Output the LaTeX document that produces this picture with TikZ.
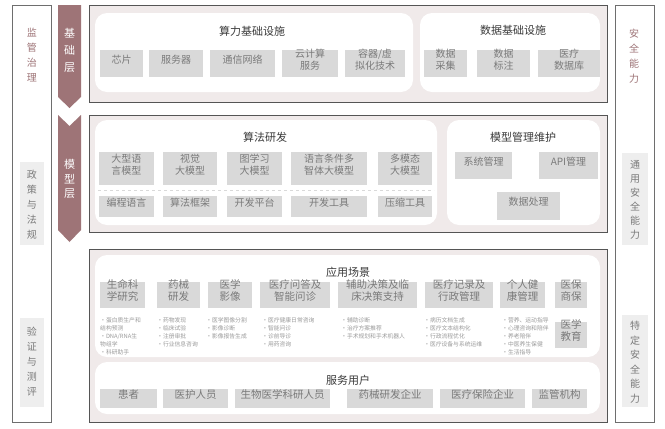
\documentclass[tikz,border=0pt]{standalone}
\usepackage{fontspec}
\setmainfont{Noto Sans CJK SC}
\usetikzlibrary{fit}
\definecolor{mauve}{HTML}{9E7477}
\definecolor{panelbg}{HTML}{F0EAEA}
\definecolor{boxbg}{HTML}{D9D9D9}
\definecolor{sidebg}{HTML}{EEEEEE}
\definecolor{boxtxt}{HTML}{7A7A7A}
\definecolor{titletxt}{HTML}{3A3A3A}
\definecolor{bullettxt}{HTML}{9A9A9A}
\definecolor{framec}{HTML}{555555}
\tikzset{
  panel/.style={draw=framec, line width=0.9pt, fill=panelbg, inner sep=0pt},
  wbox/.style={fill=white, rounded corners=12pt, inner sep=0pt},
  gbox/.style={fill=boxbg, inner sep=0pt, text=boxtxt, align=center, font=\fontsize{10}{12}\selectfont},
  abox/.style={gbox, font=\fontsize{10.5}{12.5}\selectfont},
  ttl/.style={text=titletxt, inner sep=0pt, font=\fontsize{11}{12}\selectfont},
  bul/.style={anchor=north west, inner sep=0pt, text=bullettxt, align=left, font=\fontsize{5.8}{8}\selectfont},
  sidecol/.style={draw=framec!85, line width=0.7pt, fill=white, inner sep=0pt},
  sidebox/.style={fill=sidebg, inner sep=0pt},
  vtxt/.style={align=center, inner sep=0pt, text=boxtxt, font=\fontsize{10}{15}\selectfont},
  ltxt/.style={align=center, inner sep=0pt, text=white, font=\fontsize{11}{17}\selectfont},
  sepline/.style={draw=boxbg, dashed, line width=0.6pt},
}
\newcommand{\bx}[7][gbox]{\node[#1, fit={(#3,#4) (#5,#6)}] (#2) {#7};}
\begin{document}
\begin{tikzpicture}[x=1pt,y=-1pt]
\useasboundingbox (0,0) rectangle (665,429);
\fill[white] (0,0) rectangle (665,429);

% side columns
\node[sidecol, fit={(12,5) (51,422)}] (leftcol) {};
\node[sidecol, fit={(615,5) (654,422)}] (rightcol) {};
\node[vtxt, text=mauve] (reg) at (32,55) {监\\管\\治\\理};
\node[sidebox, fit={(20,162) (44,245)}] (polbox) {};
\node[vtxt] (pol) at (32,205) {政\\策\\与\\法\\规};
\node[sidebox, fit={(20,318) (44,407)}] (valbox) {};
\node[vtxt] (val) at (32,362) {验\\证\\与\\测\\评};
\node[vtxt, text=mauve] (sec) at (634,56) {安\\全\\能\\力};
\node[sidebox, fit={(622,153) (648,245)}] (gsbox) {};
\node[vtxt, font=\fontsize{10}{14}\selectfont] (gs) at (635,200) {通\\用\\安\\全\\能\\力};
\node[sidebox, fit={(622,315) (648,407)}] (ssbox) {};
\node[vtxt, font=\fontsize{10}{14.5}\selectfont] (ss) at (635,362) {特\\定\\安\\全\\能\\力};

% layer arrows
\fill[mauve] (58,5) -- (81,5) -- (81,97) -- (69.5,108) -- (58,97) -- cycle;
\node[ltxt] (l1) at (69.5,50) {基\\础\\层};
\fill[mauve] (58,115) -- (69.5,126) -- (81,115) -- (81,230) -- (69.5,242) -- (58,230) -- cycle;
\node[ltxt, font=\fontsize{11}{14.5}\selectfont] (l2) at (69.5,179) {模\\型\\层};

% panel 1
\node[panel, fit={(89,5) (607,102)}] (p1) {};
\node[wbox, fit={(95,13) (413,92)}] (hw) {};
\node[wbox, fit={(420,13) (600,92)}] (data) {};
\node[ttl] (hwt) at (252,31) {算力基础设施};
\node[ttl] (datat) at (513,30) {数据基础设施};
\bx{chip}{100}{50}{143}{77}{芯片}
\bx{server}{149}{50}{203}{77}{服务器}
\bx{net}{210}{50}{275}{77}{通信网络}
\bx{cloud}{282}{50}{338}{77}{云计算\\服务}
\bx{cont}{345}{50}{405}{77}{容器/虚\\拟化技术}
\bx{dcol}{424}{50}{467}{77}{数据\\采集}
\bx{dlab}{477}{50}{530}{77}{数据\\标注}
\bx{ddb}{538}{50}{600}{77}{医疗\\数据库}

% panel 2
\node[panel, fit={(89,115) (607,232)}] (p2) {};
\node[wbox, fit={(95,120) (437,225)}] (algo) {};
\node[wbox, fit={(447,120) (600,225)}] (mgmt) {};
\node[ttl] (algot) at (265,137) {算法研发};
\node[ttl] (mgmtt) at (523,137) {模型管理维护};
\bx{llm}{99}{152}{154}{185}{大型语\\言模型}
\bx{vis}{163}{152}{217}{185}{视觉\\大模型}
\bx{graph}{227}{152}{282}{185}{图学习\\大模型}
\bx{agent}{291}{152}{367}{185}{语言条件多\\智体大模型}
\bx{mm}{378}{152}{432}{185}{多模态\\大模型}
\coordinate (dl) at (98,190);
\coordinate (dr) at (434,190);
\draw[sepline] (dl) -- (dr);
\bx{prog}{99}{196}{154}{217}{编程语言}
\bx{frm}{163}{196}{217}{217}{算法框架}
\bx{plat}{227}{196}{282}{217}{开发平台}
\bx{tool}{291}{196}{367}{217}{开发工具}
\bx{comp}{378}{196}{432}{217}{压缩工具}
\bx{sys}{455}{152}{512}{179}{系统管理}
\bx{api}{539}{152}{598}{179}{API管理}
\bx{proc}{497}{192}{560}{220}{数据处理}

% panel 3
\node[panel, fit={(89,249) (607,422)}] (p3) {};
\node[wbox, fit={(95,255) (600,357)}] (app) {};
\node[wbox, fit={(95,362) (600,414)}] (users) {};
\node[ttl] (appt) at (348,272) {应用场景};
\node[ttl] (userst) at (348,380) {服务用户};
\bx[abox]{life}{100}{282}{145}{308}{生命科\\学研究}
\bx[abox]{drug}{157}{282}{200}{308}{药械\\研发}
\bx[abox]{img}{208}{282}{252}{308}{医学\\影像}
\bx[abox]{qa}{260}{282}{330}{308}{医疗问答及\\智能问诊}
\bx[abox]{dec}{338}{282}{417}{308}{辅助决策及临\\床决策支持}
\bx[abox]{rec}{425}{282}{493}{308}{医疗记录及\\行政管理}
\bx[abox]{health}{500}{282}{545}{308}{个人健\\康管理}
\bx[abox]{ins}{555}{282}{587}{308}{医保\\商保}
\bx[abox]{edu}{555}{322}{587}{348}{医学\\教育}

\node[bul] (b1) at (100,317) {•蛋白质生产和\\结构预测\\•DNA/RNA生\\物组学\\•科研助手};
\node[bul] (b2) at (157,317) {•药物发现\\•临床试验\\•注册审批\\•行业信息咨询};
\node[bul] (b3) at (206,317) {•医学图像分割\\•影像诊断\\•影像报告生成};
\node[bul] (b4) at (262,317) {•医疗健康日常咨询\\•智能问诊\\•诊前导诊\\•用药咨询};
\node[bul] (b5) at (341,317) {•辅助诊断\\•治疗方案推荐\\•手术规划和手术机器人};
\node[bul] (b6) at (424,317) {•病历文档生成\\•医疗文本结构化\\•行政流程优化\\•医疗设备与系统运维};
\node[bul] (b7) at (502,317) {•营养、运动指导\\•心理咨询和陪伴\\•养老陪伴\\•中医养生保健\\•生活指导};

\bx[abox]{pat}{100}{389}{157}{408}{患者}
\bx[abox]{med}{163}{389}{228}{408}{医护人员}
\bx[abox]{sci}{235}{389}{330}{408}{生物医学科研人员}
\bx[abox]{ent}{347}{389}{433}{408}{药械研发企业}
\bx[abox]{insc}{440}{389}{525}{408}{医疗保险企业}
\bx[abox]{regu}{532}{389}{587}{408}{监管机构}
\end{tikzpicture}
\end{document}
